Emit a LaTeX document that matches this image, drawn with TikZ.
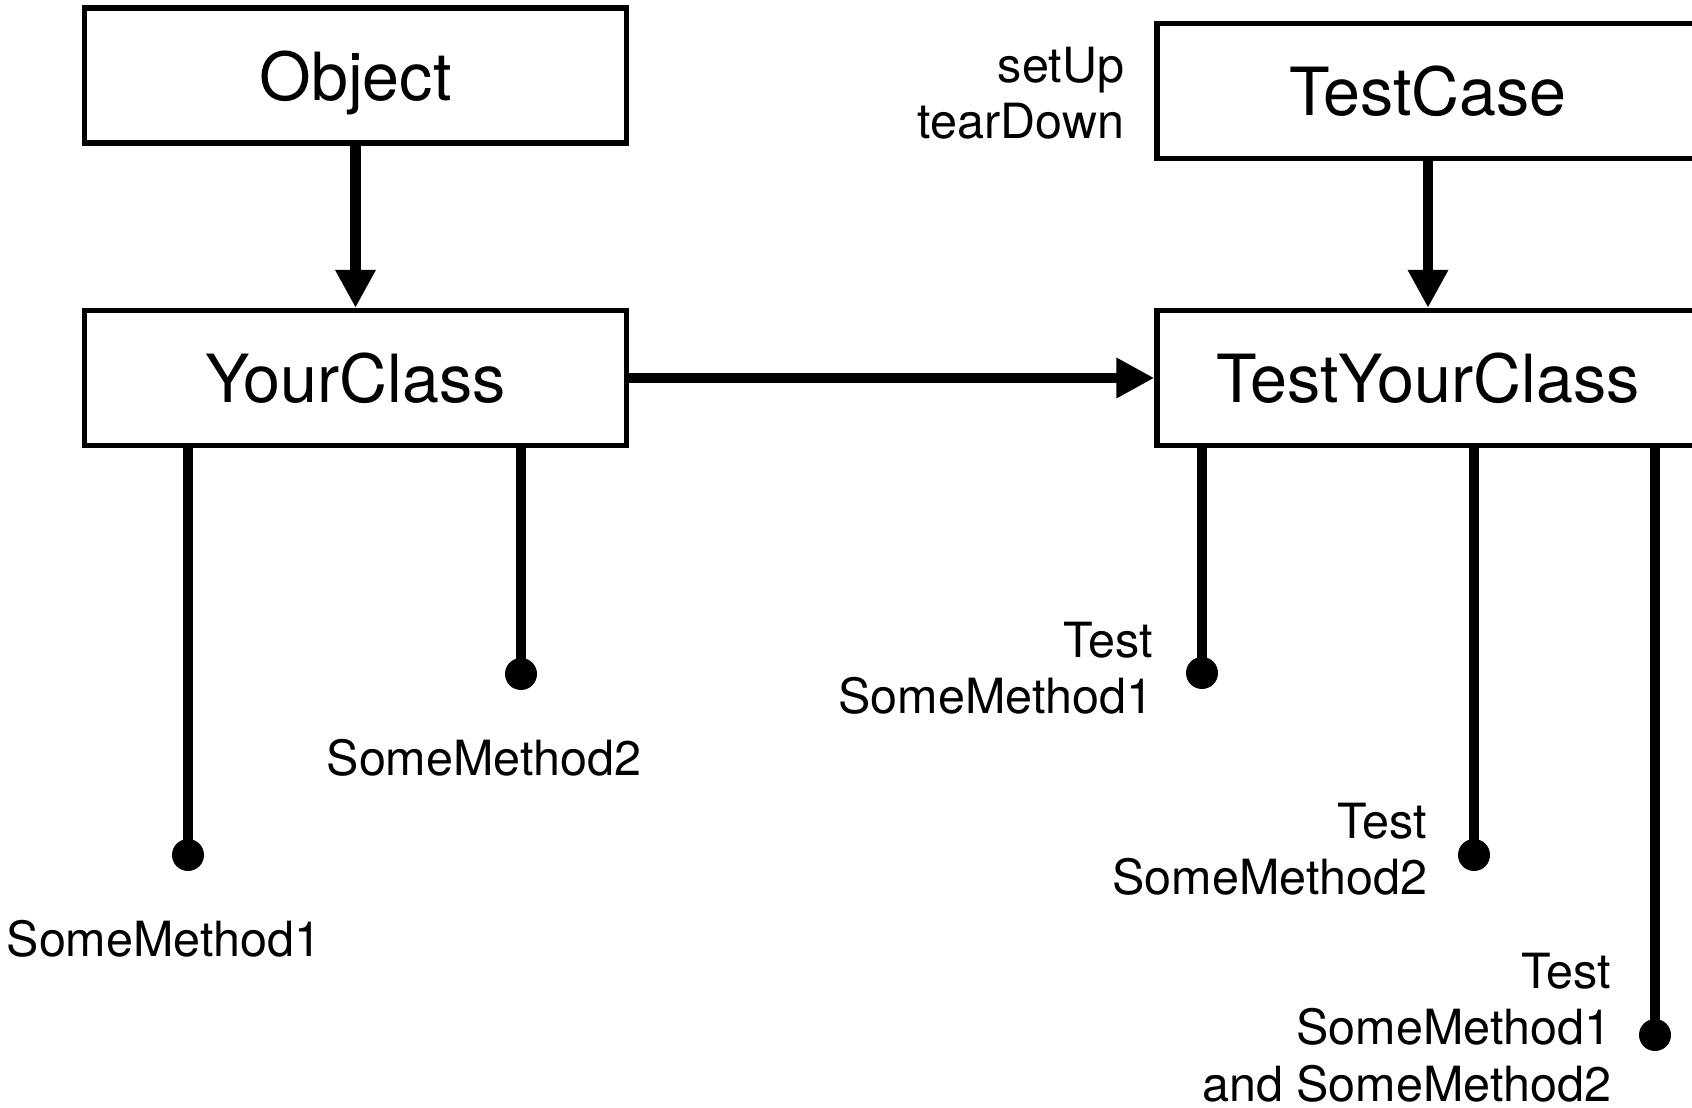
\documentclass[tikz,border=0pt]{standalone}
\usepackage{fontspec}
\setmainfont{TeX Gyre Heros}
\usetikzlibrary{arrows.meta}

\begin{document}
\begin{tikzpicture}[x=0.1mm,y=-0.1mm,
  cls/.style={draw,line width=1.5pt,minimum width=54.2mm,minimum height=13.5mm,
    inner sep=0pt,text height=14.2pt,text depth=0pt,font=\fontsize{18.9pt}{22.7pt}\selectfont},
  lbl/.style={inner sep=0pt,font=\fontsize{13.8pt}{16.2pt}\selectfont},
  inh/.style={line width=3pt,-{Triangle[length=3.8mm,width=3.8mm]}},
  meth/.style={line width=3pt}]
  \useasboundingbox (0,0) rectangle (1692,1108);
  % classes
  \node[cls] (obj) at (355.5,75.5) {Object};
  \node[cls] (yc) at (355.5,378) {YourClass};
  \node[cls] (tc) at (1428,91) {TestCase};
  \node[cls] (tyc) at (1428,378) {TestYourClass};
  \draw[inh] (obj) -- (yc);
  \draw[inh] (tc) -- (tyc);
  \draw[inh] (yc) -- (tyc);
  \node[lbl,align=right,anchor=north east] (fixture) at (1125,46) {setUp\\tearDown};
  % methods of YourClass
  \coordinate (m1) at (188,855);
  \coordinate (m2) at (521,674);
  \foreach \m in {m1,m2}{
    \draw[meth] (yc.south -| \m) -- (\m);
    \fill (\m) circle (1.6mm);
  }
  \node[lbl,anchor=base] (m1lbl) at (164,957) {SomeMethod1};
  \node[lbl,anchor=base] (m2lbl) at (484,776) {SomeMethod2};
  % tests of TestYourClass
  \coordinate (t1) at (1202,673);
  \coordinate (t2) at (1474,855);
  \coordinate (t3) at (1655,1035);
  \foreach \t in {t1,t2,t3}{
    \draw[meth] (tyc.south -| \t) -- (\t);
    \fill (\t) circle (1.6mm);
  }
  \node[lbl,align=right,anchor=north east] (t1lbl) at (1154,621) {Test\\SomeMethod1};
  \node[lbl,align=right,anchor=north east] (t2lbl) at (1428,802) {Test\\SomeMethod2};
  \node[lbl,align=right,anchor=north east] (t3lbl) at (1612,952) {Test\\SomeMethod1\\and SomeMethod2};
\end{tikzpicture}
\end{document}
